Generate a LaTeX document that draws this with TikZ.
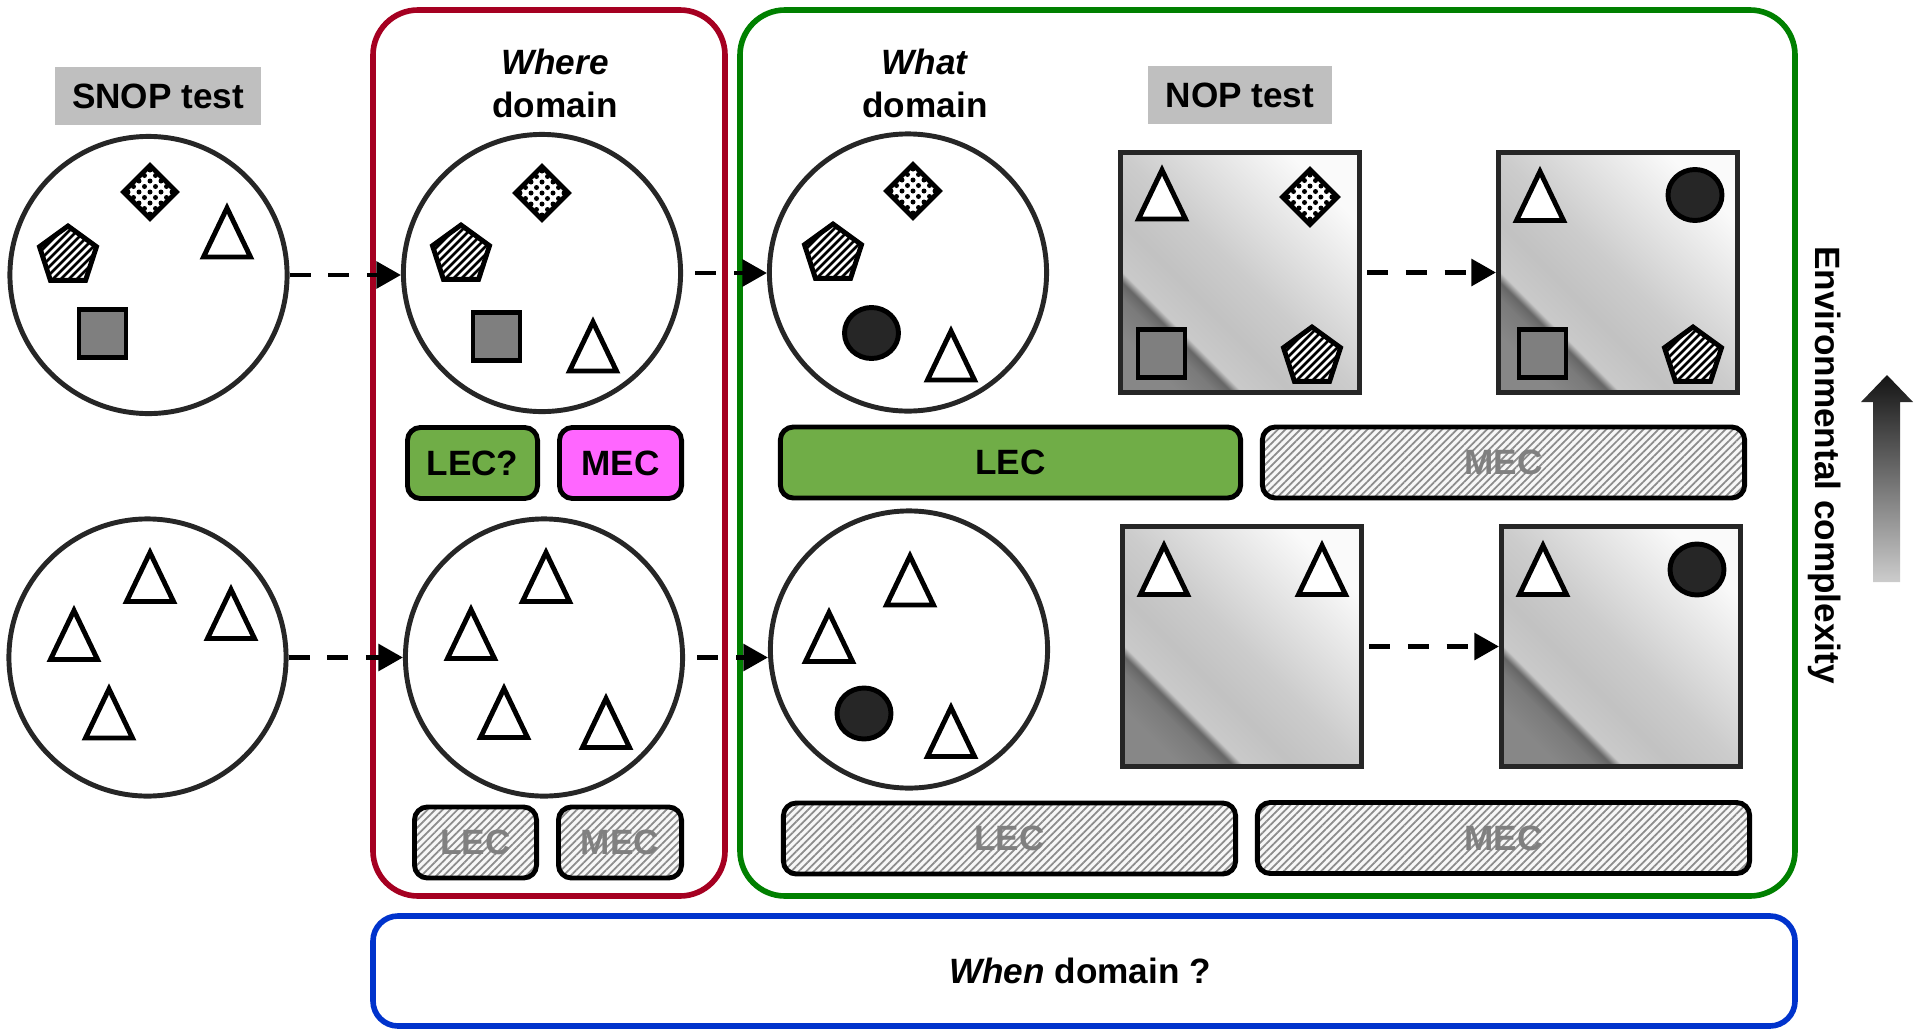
\documentclass[tikz,border=0pt]{standalone}
\usepackage{fontspec}
\setmainfont{Liberation Sans}
\usetikzlibrary{arrows.meta,patterns.meta}

\definecolor{ring}{RGB}{38,38,38}
\definecolor{lblgray}{RGB}{191,191,191}
\definecolor{lecgreen}{RGB}{112,173,71}
\definecolor{mecpink}{RGB}{255,102,255}
\definecolor{frred}{RGB}{165,0,33}
\definecolor{frgreen}{RGB}{0,128,0}
\definecolor{frblue}{RGB}{0,51,204}
\definecolor{sqgray}{RGB}{127,127,127}

\pgfdeclarehorizontalshading{nopshade}{100bp}{rgb(0bp)=(0.53,0.53,0.53); rgb(23bp)=(0.53,0.53,0.53); rgb(28.6bp)=(0.48,0.48,0.48); rgb(31bp)=(0.40,0.40,0.40); rgb(32.6bp)=(0.79,0.79,0.79); rgb(40bp)=(0.76,0.76,0.76); rgb(50bp)=(0.80,0.80,0.80); rgb(75bp)=(0.98,0.98,0.98); rgb(100bp)=(0.98,0.98,0.98)}

\newcommand{\mytri}[2]{\draw[shp,fill=white,line join=miter] ({#1-23.5},{#2+26}) -- ({#1},{#2-23}) -- ({#1+23.5},{#2+26}) -- cycle;}
\newcommand{\mysq}[2]{\draw[shp,fill=sqgray] ({#1-23.5},{#2-24}) rectangle ({#1+23.5},{#2+24});}
\newcommand{\myblob}[2]{\draw[shp,fill=ring] (#1,#2) ellipse [x radius=27, y radius=25.5];}
\newcommand{\mydia}[3]{%
  \begin{scope}
    \clip ({#1-#3},{#2}) -- ({#1},{#2-#3}) -- ({#1+#3},{#2}) -- ({#1},{#2+#3}) -- cycle;
    \fill[white] ({#1-#3},{#2-#3}) rectangle ({#1+#3},{#2+#3});
    \foreach \i in {-3,...,3}{\foreach \j in {-3,...,3}{\fill ({#1+(\i-\j)*5.5},{#2+(\i+\j)*5.5}) circle[radius=2.5];}}
  \end{scope}
  \draw[shp,line join=miter] ({#1-#3},{#2}) -- ({#1},{#2-#3}) -- ({#1+#3},{#2}) -- ({#1},{#2+#3}) -- cycle;}
\newcommand{\mypent}[2]{%
  \begin{scope}
    \clip ({#1},{#2-30}) -- ({#1+28.5},{#2-9.3}) -- ({#1+17.6},{#2+24.3}) -- ({#1-17.6},{#2+24.3}) -- ({#1-28.5},{#2-9.3}) -- cycle;
    \fill[white] ({#1-31},{#2-31}) rectangle ({#1+31},{#2+31});
    \foreach \k in {-9,...,9}{\draw[line width=0.75pt] ({#1+\k*8-40},{#2+40}) -- ({#1+\k*8+40},{#2-40});}
  \end{scope}
  \draw[shp,line join=miter] ({#1},{#2-30}) -- ({#1+28.5},{#2-9.3}) -- ({#1+17.6},{#2+24.3}) -- ({#1-17.6},{#2+24.3}) -- ({#1-28.5},{#2-9.3}) -- cycle;}

\begin{document}
\begin{tikzpicture}[x=0.01cm,y=-0.01cm,
  font=\fontsize{10}{12.2}\selectfont\bfseries,
  env/.style={circle,draw=ring,line width=1.4pt,minimum size=2.77cm,inner sep=0pt},
  nopbox/.style={rectangle,draw=ring,line width=1.4pt,minimum size=2.39cm,inner sep=0pt,shading=nopshade,shading angle=45},
  lbl/.style={fill=lblgray,inner sep=0pt,minimum height=0.58cm},
  tag/.style={draw=black,line width=1.4pt,rounded corners=0.13cm,inner sep=0pt,minimum height=0.71cm},
  hatch/.style={tag,preaction={fill=gray!6},pattern={Lines[angle=45,distance=1.5pt,line width=0.5pt]},pattern color=gray!90,text=gray},
  dasharrow/.style={line width=1.4pt,dash pattern=on 6pt off 5pt,-{Triangle[length=7pt,width=7.5pt]}},
  shp/.style={draw=black,line width=1.4pt},
  frame/.style={line width=1.6pt,rounded corners=0.45cm}]
\useasboundingbox (0,0) rectangle (1920,1036);

% frames
\draw[frame,draw=frred] (373,10) rectangle (725,896);
\draw[frame,draw=frgreen] (740,10) rectangle (1795,896);
\draw[frame,draw=frblue,rounded corners=0.25cm] (373,916) rectangle (1795,1026);

% labels
\node[lbl,minimum width=2.06cm] (snoplbl) at (158,96) {SNOP test};
\node[lbl,minimum width=1.84cm] (noplbl) at (1240,95) {NOP test};
\node[align=center,inner sep=0pt] (wherelbl) at (555,83) {\textit{Where}\\domain};
\node[align=center,inner sep=0pt] (whatlbl) at (925,83) {\textit{What}\\domain};
\node[inner sep=0pt] (whenlbl) at (1080,971) {\textit{When} domain ?};
\node[rotate=-90,inner sep=0pt] (envlbl) at (1825,465) {Environmental complexity};

% environment circles
\node[env] (s1) at (148.5,275) {};
\node[env] (w1) at (542,273) {};
\node[env] (a1) at (908,272.5) {};
\node[env] (s2) at (147.5,657.5) {};
\node[env] (w2) at (544,657.5) {};
\node[env] (a2) at (909,649.5) {};

% NOP squares
\node[nopbox] (n1) at (1240,272.5) {};
\node[nopbox] (n2) at (1618,272.5) {};
\node[nopbox] (n3) at (1242,646.5) {};
\node[nopbox] (n4) at (1621,646.5) {};

% tags
\node[tag,fill=lecgreen,minimum width=1.30cm] (lecq) at (472.5,463) {LEC?};
\node[tag,fill=mecpink,minimum width=1.22cm] (mecp) at (620.5,463) {MEC};
\node[tag,fill=lecgreen,minimum width=4.60cm] (lecg) at (1010.5,462.5) {LEC};
\node[hatch,minimum width=4.82cm] (mect) at (1503.5,462.5) {MEC};
\node[hatch,minimum width=1.22cm] (lecs) at (475.5,842.5) {LEC};
\node[hatch,minimum width=1.23cm] (mecs) at (620,842.5) {MEC};
\node[hatch,minimum width=4.52cm] (lecb) at (1009.5,838.5) {LEC};
\node[hatch,minimum width=4.92cm] (mecb) at (1503.5,838) {MEC};

% connectors
\draw[dasharrow] (s1.east) -- (s1.east -| w1.west);
\draw[dasharrow,shorten <=3.5pt] (w1.east) -- (w1.east -| a1.west);
\draw[dasharrow] (s2.east) -- (s2.east -| w2.west);
\draw[dasharrow,shorten <=3.5pt] (w2.east) -- (w2.east -| a2.west);
\draw[dasharrow,shorten <=1.5pt] (n1) -- (n2);
\draw[dasharrow,shorten <=1.5pt] (n3) -- (n4);

% shapes: SNOP top
\mydia{150}{192}{26.5}
\mypent{68}{256}
\mytri{227}{231}
\mysq{102.5}{333.5}
% Where top
\mydia{542}{193}{26.5}
\mypent{461}{255}
\mysq{496.5}{336.5}
\mytri{593}{345}
% What top
\mydia{913}{191}{26.5}
\mypent{833}{254}
\myblob{871.5}{333}
\mytri{951}{354}
% SNOP bottom
\mytri{150}{575.5}
\mytri{231}{612.5}
\mytri{74}{633.5}
\mytri{109}{712}
% Where bottom
\mytri{546}{575.5}
\mytri{471}{632.5}
\mytri{504}{711.5}
\mytri{606}{721.5}
% What bottom
\mytri{910}{579}
\mytri{829}{635.5}
\mytri{951}{730.5}
\myblob{864}{713.5}
% NOP top
\mytri{1162}{193}
\mydia{1310}{197}{27.5}
\mysq{1161.5}{353.5}
\mypent{1312}{357}
\mytri{1540}{194.5}
\myblob{1695}{195}
\mysq{1542.5}{353.5}
\mypent{1693}{357}
% NOP bottom
\mytri{1164}{568.5}
\mytri{1322}{568.5}
\mytri{1543}{568.5}
\myblob{1697}{569.5}

% complexity arrow
\shade[top color=black!92,bottom color=black!20] (1873,582) -- (1873,402) -- (1861,402) -- (1887,375) -- (1913,402) -- (1900,402) -- (1900,582) -- cycle;
\end{tikzpicture}
\end{document}
